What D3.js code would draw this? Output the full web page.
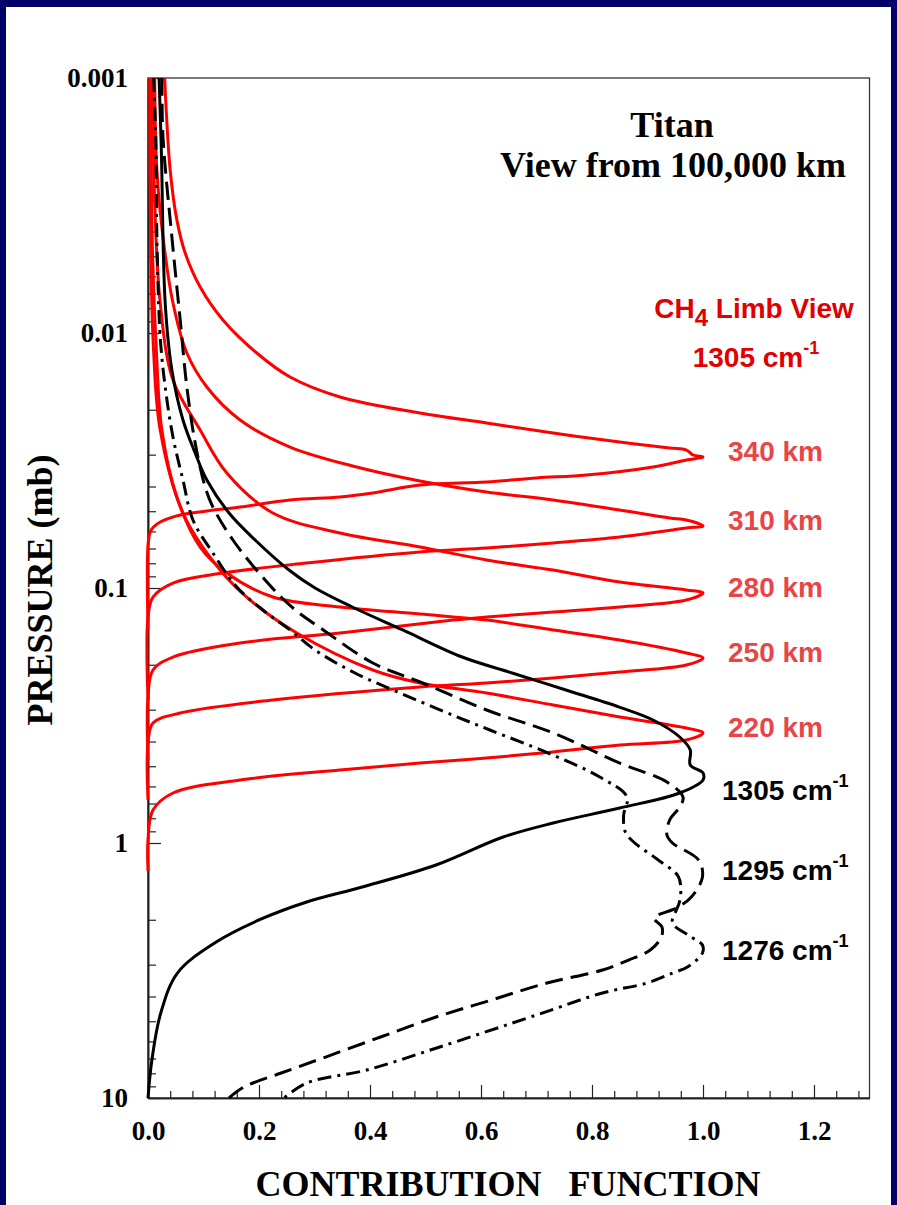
<!DOCTYPE html>
<html><head><meta charset="utf-8">
<script src="https://cdn.jsdelivr.net/npm/d3@7"></script>
<style>body{margin:0;background:#000066;} svg{display:block}</style>
</head><body>
<svg id="c" width="897" height="1205"></svg>
<script>
// ---- tick labels ----
const xTicks = [0, 0.2, 0.4, 0.6, 0.8, 1.0, 1.2];
const yTicks = [0.001, 0.01, 0.1, 1, 10];
const yTickLabels = ["0.001", "0.01", "0.1", "1", "10"];

// ---- black curves: [contribution, pressure (mb)] ----
const cf1305 = [[0.020,0.00100],[0.024,0.00191],[0.031,0.00763],[0.043,0.01397],[0.063,0.02194],[0.085,0.02956],
  [0.106,0.03771],[0.146,0.05081],[0.193,0.06483],[0.254,0.08502],[0.301,0.1000],[0.368,0.1187],[0.459,0.1461],
  [0.566,0.1865],[0.656,0.2154],[0.753,0.2512],[0.849,0.2930],[0.910,0.3294],[0.958,0.3840],[0.977,0.4318],
  [0.977,0.4946],[1.000,0.5315],[1.000,0.5662],[0.958,0.6367],[0.850,0.7291],[0.730,0.8351],[0.640,0.9474],
  [0.519,1.220],[0.386,1.488],[0.286,1.703],[0.200,2.004],[0.120,2.467],[0.053,3.236],[0.023,4.642],[0.007,7.097],[0.000,10]];
const cf1295 = [[0.025,0.00100],[0.027,0.00170],[0.043,0.00420],[0.058,0.00889],[0.070,0.01628],[0.085,0.02700],
  [0.103,0.04018],[0.117,0.04814],[0.153,0.06483],[0.211,0.09304],[0.259,0.1187],[0.316,0.1461],[0.405,0.1968],
  [0.495,0.2358],[0.610,0.3009],[0.730,0.3703],[0.850,0.4857],[0.935,0.5766],[0.964,0.6602],[0.958,0.7226],
  [0.940,0.8124],[0.935,0.9304],[0.945,1.000],[0.992,1.166],[0.999,1.359],[0.979,1.628],[0.952,1.798],[0.912,1.968],
  [0.926,2.135],[0.925,2.337],[0.905,2.627],[0.866,2.877],[0.819,3.148],[0.719,3.540],[0.619,4.127],[0.519,4.814],
  [0.419,5.766],[0.320,6.908],[0.240,7.981],[0.173,9.056],[0.146,10]];
const cf1276 = [[0.010,0.00100],[0.014,0.00170],[0.016,0.00420],[0.022,0.01036],[0.031,0.01628],[0.045,0.02558],
  [0.063,0.03771],[0.081,0.05412],[0.117,0.07291],[0.160,0.09910],[0.207,0.1220],[0.256,0.1461],[0.301,0.1751],
  [0.373,0.2154],[0.454,0.2581],[0.553,0.3177],[0.616,0.3605],[0.721,0.4437],[0.814,0.5511],[0.863,0.6602],
  [0.857,0.7767],[0.860,0.9056],[0.875,0.9910],[0.917,1.155],[0.955,1.347],[0.960,1.515],[0.957,1.719],[0.952,1.831],
  [0.945,2.059],[0.979,2.337],[0.999,2.512],[0.999,2.700],[0.972,3.064],[0.945,3.236],[0.899,3.540],[0.819,3.873],
  [0.700,4.727],[0.520,6.367],[0.394,7.767],[0.286,8.736],[0.245,10]];

// ---- red limb-view curves ----
const limb340 = [[0.030,0.00100],[0.040,0.00230],[0.052,0.00360],[0.067,0.00486],[0.094,0.00660],[0.135,0.00889],
  [0.196,0.01198],[0.256,0.01488],[0.346,0.01782],[0.490,0.02059],[0.610,0.02254],[0.730,0.02467],
  [0.850,0.02676],[0.940,0.02825],[0.970,0.02877],[0.982,0.03009],[1.000,0.03064],[0.970,0.03148],[0.910,0.03354],
  [0.790,0.03605],[0.700,0.03703],[0.610,0.03840],[0.490,0.03945],[0.405,0.04241],[0.346,0.04396],[0.256,0.04517],
  [0.166,0.04814],[0.106,0.04990],[0.058,0.05173],[0.022,0.05511],[0.010,0.05766],[0.004,0.06031],[0.000,0.06783],[0.000,0.1461]];
const limb310 = [[0.012,0.00100],[0.016,0.00230],[0.027,0.00420],[0.045,0.00763],[0.070,0.01198],[0.106,0.01628],
  [0.166,0.02194],[0.256,0.02800],[0.376,0.03354],[0.490,0.03805],[0.610,0.04203],[0.730,0.04517],[0.850,0.04946],
  [0.940,0.05315],[0.970,0.05412],[1.000,0.05714],[0.970,0.05818],[0.850,0.06310],[0.730,0.06661],[0.610,0.06970],
  [0.490,0.07226],[0.286,0.07981],[0.135,0.08736],[0.045,0.09560],[0.009,0.1085],[0.000,0.1299],[0.000,0.2750]];
const limb280 = [[0.008,0.00100],[0.012,0.00301],[0.022,0.00763],[0.045,0.01529],[0.094,0.02402],[0.142,0.03540],
  [0.225,0.05081],[0.346,0.06086],[0.490,0.06908],[0.610,0.07767],[0.730,0.08502],[0.850,0.09474],[0.970,0.1018],
  [1.000,0.1046],[0.970,0.1115],[0.850,0.1187],[0.730,0.1242],[0.610,0.1299],[0.550,0.1335],[0.346,0.1501],
  [0.166,0.1643],[0.045,0.1865],[0.009,0.2097],[0.000,0.2676],[0.000,0.4727]];
const limb250 = [[0.005,0.00100],[0.008,0.00473],[0.015,0.01166],[0.025,0.02402],[0.052,0.04396],[0.094,0.06908],
  [0.142,0.08736],[0.225,0.1085],[0.346,0.1187],[0.490,0.1265],[0.610,0.1335],[0.730,0.1461],[0.850,0.1599],
  [0.970,0.1798],[1.000,0.1882],[0.970,0.2004],[0.850,0.2135],[0.730,0.2254],[0.610,0.2358],[0.490,0.2445],
  [0.225,0.2750],[0.058,0.3092],[0.009,0.3384],[0.000,0.4053],[0.000,0.6783]];
const limb220 = [[0.003,0.00100],[0.005,0.00473],[0.010,0.01166],[0.022,0.02402],[0.063,0.05081],[0.130,0.08502],
  [0.184,0.1115],[0.268,0.1501],[0.405,0.2097],[0.490,0.2358],[0.610,0.2581],[0.730,0.2877],[0.850,0.3206],
  [0.970,0.3540],[1.000,0.3703],[0.970,0.3945],[0.850,0.4127],[0.730,0.4396],[0.610,0.4642],[0.490,0.4857],
  [0.346,0.5173],[0.166,0.5662],[0.045,0.6367],[0.009,0.7424],[0.000,0.9732],[0.000,1.288]];

const limbNames = ["340 km", "310 km", "280 km", "250 km", "220 km"];
const limbSeries = [limb340, limb310, limb280, limb250, limb220];
const waveNames = ["1305", "1295", "1276"];
const waveLabelP = [0.678, 1.396, 2.877];

const serif = "'Liberation Serif','Times New Roman',Times,serif";
const sans = "'Liberation Sans',Arial,Helvetica,sans-serif";

const svg = d3.select("#c");
svg.append("rect").attr("width", 897).attr("height", 1205).attr("fill", "#000066");
svg.append("rect").attr("x", 6).attr("y", 7).attr("width", 885).attr("height", 1198).attr("fill", "#fff");

const x = d3.scaleLinear().domain([0, 1.3]).range([148, 869.5]);
const y = d3.scaleLog().domain([0.001, 10]).range([78, 1098]);

// frame
svg.append("rect").attr("x", x(0)).attr("y", y(0.001)).attr("width", x(1.3) - x(0)).attr("height", y(10) - y(0.001))
  .attr("fill", "none").attr("stroke", "#333").attr("stroke-width", 1.3);

// x axis
const minorX = d3.range(0, 1.3001, 0.04).filter(v => Math.abs(v / 0.2 - Math.round(v / 0.2)) > 1e-6);
svg.append("g").attr("transform", `translate(0,${y(10)})`)
  .call(d3.axisBottom(x).tickValues(minorX).tickSize(-7).tickSizeOuter(0).tickFormat(""));
const gx = svg.append("g").attr("transform", `translate(0,${y(10)})`)
  .call(d3.axisBottom(x).tickValues(xTicks).tickSize(-13).tickSizeOuter(0).tickPadding(23).tickFormat(d3.format(".1f")));
gx.selectAll("text").attr("font-family", serif).attr("font-weight", "bold").attr("font-size", 27).attr("fill", "#000");

// y axis
const minorY = [];
[0.001, 0.01, 0.1, 1].forEach(d => { for (let k = 2; k <= 9; k++) minorY.push(d * k); });
svg.append("g").attr("transform", `translate(${x(0)},0)`)
  .call(d3.axisLeft(y).tickValues(minorY).tickSize(-8).tickSizeOuter(0).tickFormat(""));
const gy = svg.append("g").attr("transform", `translate(${x(0)},0)`)
  .call(d3.axisLeft(y).tickValues(yTicks).tickSize(-13).tickSizeOuter(0).tickPadding(20)
    .tickFormat((d, i) => yTickLabels[i]));
gy.selectAll("text").attr("font-family", serif).attr("font-weight", "bold").attr("font-size", 27).attr("fill", "#000");
svg.selectAll(".domain").attr("stroke", "#222").attr("stroke-width", 1.6);
svg.selectAll(".tick line").attr("stroke", "#222").attr("stroke-width", 1.2);

// curves
const line = d3.line().x(d => x(d[0])).y(d => y(d[1])).curve(d3.curveCatmullRom.alpha(0.5));
const g = svg.append("g").attr("fill", "none").attr("stroke-linejoin", "round");
limbSeries.forEach(s => {
  g.append("path").attr("d", line(s)).attr("stroke", "#ff0000").attr("stroke-width", 3);
});
g.append("path").attr("d", line(cf1305)).attr("stroke", "#000").attr("stroke-width", 3);
g.append("path").attr("d", line(cf1295)).attr("stroke", "#000").attr("stroke-width", 3).attr("stroke-dasharray", "18,8");
g.append("path").attr("d", line(cf1276)).attr("stroke", "#000").attr("stroke-width", 3).attr("stroke-dasharray", "14,6,3,6");

// titles
svg.append("text").attr("x", 672).attr("y", 137).attr("text-anchor", "middle").attr("font-family", serif)
  .attr("font-weight", "bold").attr("font-size", 36).text("Titan");
svg.append("text").attr("x", 673).attr("y", 177).attr("text-anchor", "middle").attr("font-family", serif)
  .attr("font-weight", "bold").attr("font-size", 36).text("View from 100,000 km");

const ch4 = svg.append("text").attr("x", 754).attr("y", 318).attr("text-anchor", "middle").attr("font-family", sans)
  .attr("font-weight", "bold").attr("font-size", 28).attr("fill", "#e00000");
ch4.append("tspan").text("CH");
ch4.append("tspan").attr("dy", 8).attr("font-size", 24).text("4");
ch4.append("tspan").attr("dy", -8).text(" Limb View");
const wn = svg.append("text").attr("x", 756).attr("y", 367).attr("text-anchor", "middle").attr("font-family", sans)
  .attr("font-weight", "bold").attr("font-size", 28).attr("fill", "#e00000");
wn.append("tspan").text("1305 cm");
wn.append("tspan").attr("dy", -13).attr("font-size", 18).text("-1");

// km labels
limbSeries.forEach((s, i) => {
  const peak = s.find(d => d[0] === 1);
  svg.append("text").attr("x", x(1.0) + 25).attr("y", y(peak[1]) + 4).attr("font-family", sans)
    .attr("font-weight", "bold").attr("font-size", 28).attr("fill", "#e84646").text(limbNames[i]);
});
// wavenumber labels
waveNames.forEach((w, i) => {
  const t = svg.append("text").attr("x", 722).attr("y", y(waveLabelP[i])).attr("font-family", sans)
    .attr("font-weight", "bold").attr("font-size", 28).attr("fill", "#000");
  t.append("tspan").text(w + " cm");
  t.append("tspan").attr("dy", -13).attr("font-size", 18).text("-1");
});

// axis titles
svg.append("text").attr("transform", "translate(52,590) rotate(-90)").attr("text-anchor", "middle")
  .attr("font-family", serif).attr("font-weight", "bold").attr("font-size", 36).text("PRESSURE (mb)");
svg.append("text").attr("x", 508).attr("y", 1196).attr("text-anchor", "middle")
  .attr("font-family", serif).attr("font-weight", "bold").attr("font-size", 36)
  .text("CONTRIBUTION\u00a0\u00a0\u00a0FUNCTION");
</script>
</body></html>
